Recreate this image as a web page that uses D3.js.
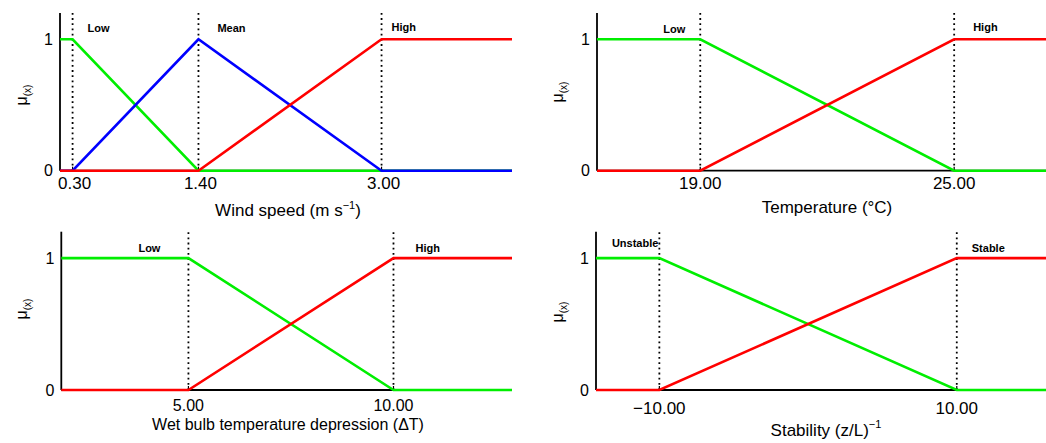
<!DOCTYPE html>
<html><head><meta charset="utf-8">
<script src="https://cdn.jsdelivr.net/npm/d3@7"></script>
<style>
html,body{margin:0;padding:0;background:#fff;}
svg{display:block;}
text{font-family:"Liberation Sans",Arial,Helvetica,sans-serif;fill:#000;}
</style></head><body>
<script>
// ---- data ----
const windX    = [0.19, 0.30, 1.40, 3.00, 4.14];
const windLow  = [1, 1, 0, 0, 0];
const windMean = [0, 0, 1, 0, 0];
const windHigh = [0, 0, 0, 1, 1];
const windTicks = [0.30, 1.40, 3.00];
const windNames = ["Low", "Mean", "High"];

const tempX    = [16.56, 19, 25, 27.2];
const tempLow  = [1, 1, 0, 0];
const tempHigh = [0, 0, 1, 1];
const tempTicks = [19, 25];
const tempNames = ["Low", "High"];

const wbX    = [1.9, 5, 10, 12.89];
const wbLow  = [1, 1, 0, 0];
const wbHigh = [0, 0, 1, 1];
const wbTicks = [5, 10];
const wbNames = ["Low", "High"];

const stabX    = [-14.26, -10, 10, 16.1];
const stabUnstable = [1, 1, 0, 0];
const stabStable   = [0, 0, 1, 1];
const stabTicks = [-10, 10];
const stabNames = ["Unstable", "Stable"];

const yTicks = [0, 1];

const GREEN = "#00ee00", BLUE = "#0000ff", RED = "#ff0000";

const W = 1046, H = 443;
const svg = d3.select("body").append("svg").attr("width", W).attr("height", H);

function panel(cfg) {
  const g = svg.append("g");
  const x = d3.scaleLinear().domain([cfg.xs[0], cfg.xs[cfg.xs.length-1]]).range([cfg.left, cfg.right]);
  const y = d3.scaleLinear().domain([0, 1.2]).range([cfg.bottom, cfg.top]);
  const fs = cfg.fontSize || 17;

  // axes lines
  g.append("line").attr("x1", cfg.left).attr("x2", cfg.left).attr("y1", y(0)).attr("y2", y(1.2))
    .attr("stroke", "#000").attr("stroke-width", 1.8);
  g.append("line").attr("x1", cfg.left).attr("x2", cfg.right).attr("y1", y(0)).attr("y2", y(0))
    .attr("stroke", "#000").attr("stroke-width", 1.8);
  // x ticks
  cfg.ticks.forEach(t => {
    g.append("line").attr("x1", x(t)).attr("x2", x(t)).attr("y1", y(0)).attr("y2", y(0) - 4)
      .attr("stroke", "#000").attr("stroke-width", 1.2);
  });
  yTicks.forEach(t => {
    g.append("line").attr("x1", cfg.left).attr("x2", cfg.left + 4).attr("y1", y(t)).attr("y2", y(t))
      .attr("stroke", "#000").attr("stroke-width", 1.2);
    g.append("text").attr("x", cfg.left - 7).attr("y", y(t)).attr("dy", "0.36em")
      .attr("text-anchor", "end").attr("font-size", 16).text(t);
  });
  // dotted lines
  cfg.ticks.forEach(t => {
    g.append("line").attr("x1", x(t)).attr("x2", x(t)).attr("y1", y(0)).attr("y2", y(1.2))
      .attr("stroke", "#000").attr("stroke-width", 1.8).attr("stroke-dasharray", "1.8,3.4");
  });
  // series
  const line = d3.line().x(d => x(d[0])).y(d => y(d[1]));
  cfg.series.forEach(s => {
    g.append("path").datum(cfg.xs.map((v, i) => [v, s.values[i]]))
      .attr("d", line).attr("fill", "none").attr("stroke", s.color)
      .attr("stroke-width", 2.6).attr("stroke-linejoin", "miter");
  });
  // tick labels
  cfg.ticks.forEach(t => {
    g.append("text").attr("x", x(t) + (cfg.tickDx || 0)).attr("y", cfg.tickY)
      .attr("text-anchor", "middle").attr("font-size", fs)
      .text(t < 0 ? "\u2212" + Math.abs(t).toFixed(2) : t.toFixed(2));
  });
  // set names
  cfg.names.forEach((n, i) => {
    const t = cfg.ticks[i];
    const dx = cfg.nameDx[i];
    g.append("text").attr("x", x(t) + dx).attr("y", cfg.nameY[i])
      .attr("text-anchor", dx > 0 ? "start" : "end").attr("font-size", 11).attr("font-weight", "bold")
      .text(n);
  });
  // x label
  const xl = g.append("text").attr("x", cfg.xlabelX).attr("y", cfg.xlabelY)
    .attr("text-anchor", "middle").attr("font-size", fs);
  cfg.xlabel(xl);
  // y label
  const yl = g.append("text").attr("transform", `translate(${cfg.ylabelX},${cfg.ylabelY}) rotate(-90)`)
    .attr("text-anchor", "middle").attr("font-size", 16);
  yl.append("tspan").text("\u03bc");
  yl.append("tspan").attr("font-size", 10).attr("dy", 4).text("(x)");
}

panel({
  xs: windX, left: 60, right: 512, top: 13, bottom: 170.7,
  ticks: windTicks, names: windNames, nameDx: [15, 19, 10], nameY: [32, 32, 31],
  series: [{values: windLow, color: GREEN}, {values: windMean, color: BLUE}, {values: windHigh, color: RED}],
  tickY: 189, tickDx: 2, xlabelX: 288, xlabelY: 216, ylabelX: 27, ylabelY: 95,
  xlabel: t => { t.append("tspan").text("Wind speed (m s"); t.append("tspan").attr("dy", -7).attr("font-size", 11).text("\u22121"); t.append("tspan").attr("dy", 7).text(")"); }
});

panel({
  xs: tempX, left: 597, right: 1046 + (27.2 - 27.17) * 42.33, top: 13, bottom: 170.7,
  ticks: tempTicks, names: tempNames, nameDx: [-15, 19], nameY: [33, 31],
  series: [{values: tempLow, color: GREEN}, {values: tempHigh, color: RED}],
  tickY: 189, xlabelX: 827, xlabelY: 213, ylabelX: 563, ylabelY: 92,
  xlabel: t => t.text("Temperature (\u00b0C)")
});

panel({
  xs: wbX, left: 61.3, right: 512, top: 231.7, bottom: 390, fontSize: 16,
  ticks: wbTicks, names: wbNames, nameDx: [-28, 22], nameY: [252, 252],
  series: [{values: wbLow, color: GREEN}, {values: wbHigh, color: RED}],
  tickY: 411, xlabelX: 288, xlabelY: 430, ylabelX: 27, ylabelY: 309,
  xlabel: t => t.text("Wet bulb temperature depression (\u0394T)")
});

panel({
  xs: stabX, left: 596, right: 1046 + (16.1 - 16.0) * 14.87, top: 231.7, bottom: 390,
  ticks: stabTicks, names: stabNames, nameDx: [-1, 15], nameY: [247, 252],
  series: [{values: stabUnstable, color: GREEN}, {values: stabStable, color: RED}],
  tickY: 414, xlabelX: 826, xlabelY: 436, ylabelX: 563, ylabelY: 312,
  xlabel: t => { t.append("tspan").text("Stability (z/L)"); t.append("tspan").attr("dy", -8).attr("font-size", 11).text("\u22121"); }
});
</script>
</body></html>
